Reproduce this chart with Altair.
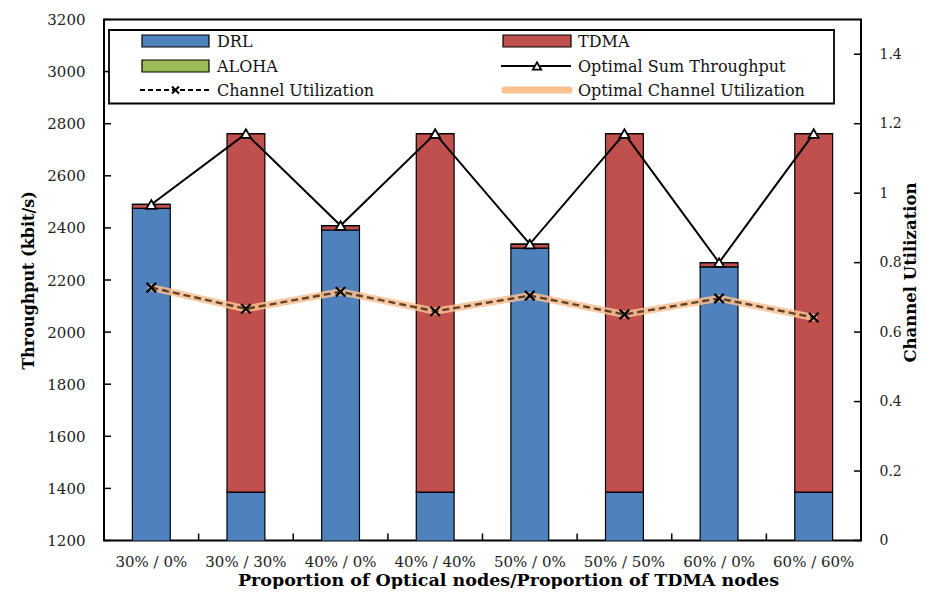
import altair as alt
import pandas as pd

# ---------------- data ----------------
categories = ["30% / 0%", "30% / 30%", "40% / 0%", "40% / 40%",
              "50% / 0%", "50% / 50%", "60% / 0%", "60% / 60%"]
drl = [2475, 1386, 2392, 1386, 2322, 1386, 2250, 1386]
tdma = [15, 1376, 17, 1376, 16, 1376, 17, 1376]
aloha = [0, 0, 0, 0, 0, 0, 0, 0]
opt_sum = [2490, 2762, 2409, 2762, 2338, 2762, 2267, 2762]
chan_util = [0.728, 0.667, 0.716, 0.660, 0.705, 0.651, 0.697, 0.642]
opt_chan_util = [0.728, 0.667, 0.716, 0.660, 0.705, 0.651, 0.697, 0.642]
left_ticks = [1200, 1400, 1600, 1800, 2000, 2200, 2400, 2600, 2800, 3000, 3200]
right_ticks = [0, 0.2, 0.4, 0.6, 0.8, 1, 1.2, 1.4]
series_names = ["DRL", "TDMA", "ALOHA"]
series_colors = ["#4F81BD", "#C0504D", "#9BBB59"]

FONT = "DejaVu Serif"

rows = []
for i, c in enumerate(categories):
    for k, (s, vals) in enumerate(zip(series_names, [drl, tdma, aloha])):
        rows.append({"cat": c, "series": s, "value": vals[i], "ord": k})
bars_df = pd.DataFrame(rows)
line_df = pd.DataFrame({"cat": categories, "opt": opt_sum,
                        "cu": chan_util, "ocu": opt_chan_util})

W, H = 757, 521
step = W / len(categories)

x_axis = alt.Axis(title="Proportion of Optical nodes/Proportion of  TDMA nodes",
                  labelAngle=0, domain=False, ticks=False, labelPadding=14,
                  titleFontSize=17.5, titleFontWeight="bold",
                  titleX=404, titleY=39.5, titleBaseline="middle", titleAlign="center")


def x_enc():
    return alt.X("cat:N", sort=categories,
                 scale=alt.Scale(paddingInner=0.6, paddingOuter=0.3),
                 axis=x_axis)


yl_scale = alt.Scale(domain=[1200, 3200])
yl_axis = alt.Axis(title="Throughput (kbit/s)", orient="left", values=left_ticks,
                   format="d", domain=False, ticks=False, grid=False,
                   labelPadding=19, titlePadding=10, titleFontWeight="bold")
yr_scale = alt.Scale(domain=[0, 1.5])
yr_axis = alt.Axis(title="Channel Utilization", orient="right", values=right_ticks,
                   format="~g", domain=False, ticks=False, grid=False,
                   labelPadding=18, labelFontSize=14, titleAngle=270, titleFontSize=16.5,
                   titleFontWeight="bold", titleX=49, titleY=H / 2 - 8,
                   titleBaseline="middle", titleAlign="center")

bars = alt.Chart(bars_df).mark_bar(clip=True, stroke="black", strokeWidth=1.2).encode(
    x=x_enc(),
    y=alt.Y("value:Q", stack="zero", scale=yl_scale, axis=yl_axis),
    color=alt.Color("series:N", scale=alt.Scale(domain=series_names, range=series_colors),
                    legend=None),
    order=alt.Order("ord:Q"),
)
opt_line = alt.Chart(line_df).mark_line(color="black", strokeWidth=2).encode(
    x=x_enc(), y=alt.Y("opt:Q", scale=yl_scale, axis=yl_axis))
opt_pts = alt.Chart(line_df).mark_point(shape="triangle-up", filled=True, fill="white",
                                         stroke="black", strokeWidth=1.8, size=100,
                                         opacity=1).encode(
    x=x_enc(), y=alt.Y("opt:Q", scale=yl_scale, axis=yl_axis))
lticks = alt.Chart(pd.DataFrame({"t": left_ticks})).mark_rule(color="black", strokeWidth=1.5).encode(
    y=alt.Y("t:Q", scale=yl_scale, axis=yl_axis), x=alt.value(0), x2=alt.value(7))
xticks = alt.Chart(pd.DataFrame({"cat": categories[1:]})).mark_rule(
    color="black", strokeWidth=1.5, xOffset=-step / 2).encode(
    x=x_enc(), y=alt.value(H), y2=alt.value(H - 7))

left = alt.layer(bars, opt_line, opt_pts, lticks, xticks)

orange = alt.Chart(line_df).mark_line(color="#FAC090", strokeWidth=7, opacity=0.85,
                                      strokeCap="round").encode(
    x=x_enc(), y=alt.Y("ocu:Q", scale=yr_scale, axis=yr_axis))
dashed = alt.Chart(line_df).mark_line(color="#3a2410", strokeWidth=2.4, strokeDash=[7, 4],
                                      opacity=0.8).encode(
    x=x_enc(), y=alt.Y("cu:Q", scale=yr_scale, axis=yr_axis))
xmarks = alt.Chart(line_df).mark_point(shape="M-1,-1L1,1M-1,1L1,-1", filled=False,
                                       stroke="black", strokeWidth=2.2, size=90,
                                       opacity=1).encode(
    x=x_enc(), y=alt.Y("cu:Q", scale=yr_scale, axis=yr_axis))
rticks = alt.Chart(pd.DataFrame({"t": right_ticks})).mark_rule(color="black", strokeWidth=1.5).encode(
    y=alt.Y("t:Q", scale=yr_scale, axis=yr_axis), x=alt.value(W - 7), x2=alt.value(W))

right = alt.layer(orange, dashed, xmarks, rticks)

# ---------------- legend (drawn manually) ----------------
one = alt.Data(values=[{}])
lg = []
lg.append(alt.Chart(one).mark_rect(fill="white", stroke="black", strokeWidth=1.8).encode(
    x=alt.value(5), x2=alt.value(730), y=alt.value(10.5), y2=alt.value(84)))
rows_y = [21.5, 46.5, 70.5]
c1_sw, c1_tx = (38, 105), 113
c2_sw, c2_tx = (399, 467), 474


def swatch(x0, x1, yc, color):
    return alt.Chart(one).mark_rect(fill=color, stroke="black", strokeWidth=1.2).encode(
        x=alt.value(x0), x2=alt.value(x1), y=alt.value(yc - 6), y2=alt.value(yc + 6))


def label(xp, yc, txt):
    return alt.Chart(one).mark_text(align="left", baseline="middle", font=FONT,
                                    fontSize=16, color="#111").encode(
        x=alt.value(xp), y=alt.value(yc + 1), text=alt.value(txt))


lg.append(swatch(*c1_sw, rows_y[0], series_colors[0]))
lg.append(label(c1_tx, rows_y[0], "DRL"))
lg.append(swatch(*c2_sw, rows_y[0], series_colors[1]))
lg.append(label(c2_tx, rows_y[0], "TDMA"))
lg.append(swatch(*c1_sw, rows_y[1], series_colors[2]))
lg.append(label(c1_tx, rows_y[1], "ALOHA"))
lg.append(alt.Chart(one).mark_rule(color="black", strokeWidth=1.8).encode(
    x=alt.value(c2_sw[0] - 2), x2=alt.value(c2_sw[1]), y=alt.value(rows_y[1])))
lg.append(alt.Chart(one).mark_point(shape="triangle-up", filled=True, fill="white",
                                    stroke="black", strokeWidth=1.8, size=70, opacity=1).encode(
    x=alt.value((c2_sw[0] + c2_sw[1]) / 2), y=alt.value(rows_y[1])))
lg.append(label(c2_tx, rows_y[1], "Optimal Sum Throughput"))
lg.append(alt.Chart(one).mark_rule(color="black", strokeWidth=2, strokeDash=[5, 3]).encode(
    x=alt.value(c1_sw[0] - 2), x2=alt.value(c1_sw[1]), y=alt.value(rows_y[2])))
lg.append(alt.Chart(one).mark_point(shape="M-1,-1L1,1M-1,1L1,-1", filled=False,
                                    stroke="black", strokeWidth=2, size=50, opacity=1).encode(
    x=alt.value((c1_sw[0] + c1_sw[1]) / 2), y=alt.value(rows_y[2])))
lg.append(label(c1_tx, rows_y[2], "Channel Utilization"))
lg.append(alt.Chart(one).mark_rule(color="#FAC090", strokeWidth=7, strokeCap="round").encode(
    x=alt.value(c2_sw[0] + 2), x2=alt.value(c2_sw[1] - 2), y=alt.value(rows_y[2])))
lg.append(label(c2_tx, rows_y[2], "Optimal Channel Utilization"))

chart = alt.layer(left, right, *lg).resolve_scale(y="independent").properties(
    width=W, height=H,
    autosize=alt.AutoSizeParams(type="none"),
    padding={"left": 96, "top": 11.5, "right": 57, "bottom": 48},
).configure_view(stroke="black", strokeWidth=2).configure_axis(
    labelFont=FONT, titleFont=FONT, labelFontSize=15, titleFontSize=16,
    labelColor="#222", titleColor="black",
)

chart.save("out.html", embed_options={"renderer": "svg", "actions": False})
